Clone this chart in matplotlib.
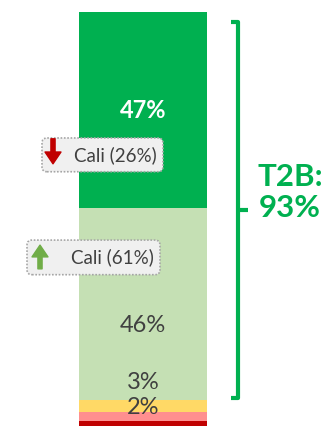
import matplotlib.pyplot as plt
from matplotlib.patches import FancyBboxPatch

plt.rcParams['font.family'] = ['Lato', 'DejaVu Sans']

# stacked shares, bottom to top
segments = ['Very poor', 'Poor', 'Fair', 'Good', 'Very good']
values = [1.5, 2, 3, 46, 47]
colors = ['#C00000', '#FF8F8F', '#FFD966', '#C5E0B4', '#00B050']
labels = ['', '2%', '3%', '46%', '47%']
label_y = [None, 4.7, 10.7, 24.2, 76.0]
label_colors = ['#404040', '#404040', '#404040', '#404040', 'white']
label_weights = ['normal', 'normal', 'normal', 'normal', 'bold']

callouts = ['Cali (26%)', 'Cali (61%)']
callout_dirs = ['down', 'up']

t2b = values[3] + values[4]

fig = plt.figure(figsize=(3.26, 4.26), dpi=100)
ax = fig.add_axes([0, 0, 1, 1])
ax.set_xlim(0, 326)
ax.set_ylim(0.2, 102.4)
ax.axis('off')

bottom = 0
for val, col in zip(values, colors):
    ax.bar(143, val, width=128, bottom=bottom, color=col, linewidth=0)
    bottom += val

for lab, y, c, w in zip(labels, label_y, label_colors, label_weights):
    if lab:
        ax.text(143, y, lab, ha='center', va='center', fontsize=17,
                color=c, fontweight=w)

# callout boxes with trend arrows
ya = 1 / 4.17
arrow = 'simple,head_width=1.15,head_length=0.85,tail_width=0.3'
boxes = [(42, 61.2, 121, 8.1), (27, 36.5, 133, 8.3)]
for (bx, by, bw, bh), txt, d in zip(boxes, callouts, callout_dirs):
    ax.add_patch(FancyBboxPatch((bx, by), bw, bh,
                                boxstyle='round,pad=0,rounding_size=5',
                                mutation_aspect=ya, facecolor='#F0F0F0',
                                edgecolor='#A6A6A6', linestyle=(0, (1, 1)),
                                linewidth=1.2, zorder=3))
    if d == 'down':
        ax.annotate('', xy=(53, 63.1), xytext=(53, 69.1),
                    arrowprops=dict(arrowstyle=arrow, mutation_scale=10,
                                    color='#C00000', shrinkA=0, shrinkB=0),
                    zorder=4)
    else:
        ax.annotate('', xy=(40, 43.6), xytext=(40, 37.9),
                    arrowprops=dict(arrowstyle=arrow, mutation_scale=10,
                                    color='#70AD47', shrinkA=0, shrinkB=0),
                    zorder=4)
    ax.text(bx + bw - 6, by + bh / 2, txt, ha='right', va='center',
            fontsize=13.5, color='#404040', zorder=5)

# top-two-box bracket
green = '#00B050'
y0, y1 = 7.0, 97.1
ym = (y0 + y1) / 2
ax.plot([231, 238, 238, 231], [y1, y1, y0, y0], color=green, lw=3,
        solid_joinstyle='round', solid_capstyle='butt')
ax.plot([238, 248], [ym, ym], color=green, lw=3, solid_capstyle='butt')
ax.text(290, 60.0, 'T2B:', ha='center', va='center',
        fontsize=22.5, fontweight='bold', color=green)
ax.text(290, 52.5, f'{t2b:.0f}%', ha='center', va='center',
        fontsize=22.5, fontweight='bold', color=green)

fig.savefig('out.png', dpi=100)
